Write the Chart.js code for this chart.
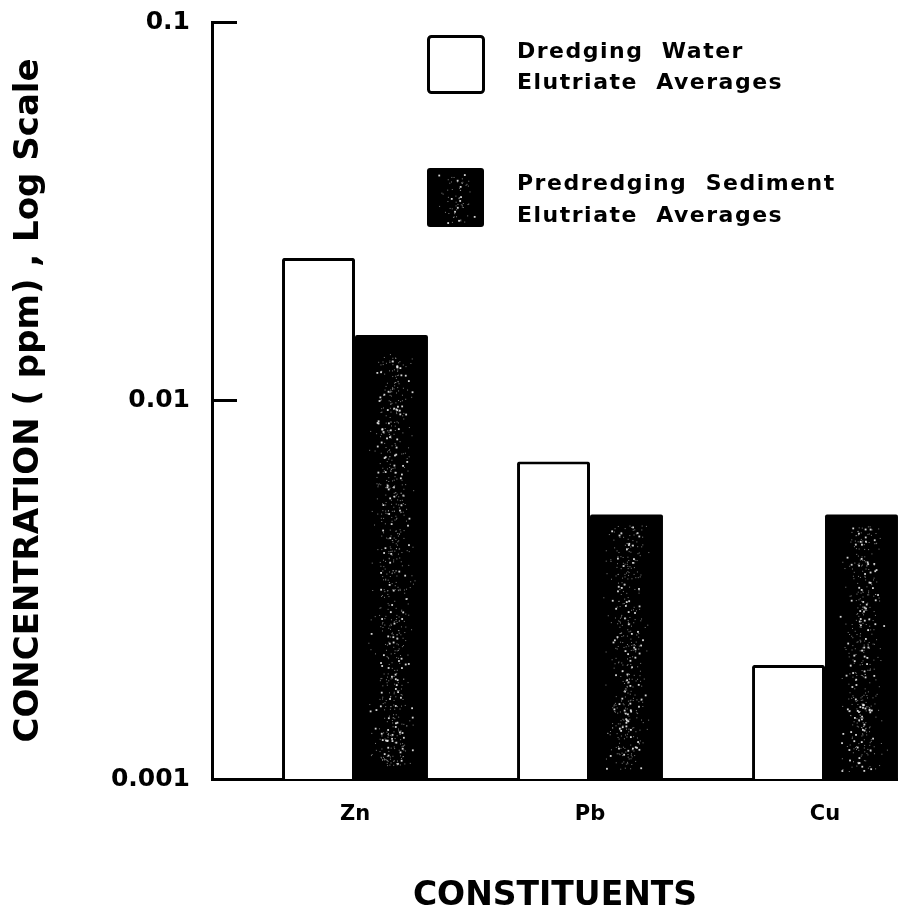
<!DOCTYPE html>
<html>
<head>
<meta charset="utf-8">
<script src="https://cdn.jsdelivr.net/npm/chart.js@4.4.0/dist/chart.umd.min.js"></script>
<style>
  html, body { margin:0; padding:0; background:#fff; overflow:hidden; }
  #wrap { width:898px; height:909px; position:relative; }
</style>
</head>
<body>
<div id="wrap"><canvas id="chart"></canvas></div>
<script>
const categories = ['Zn', 'Pb', 'Cu'];
const dredgingWater = [0.0238, 0.0069, 0.0020];
const predredgingSediment = [0.0149, 0.0050, 0.0050];
const yTicks = [0.001, 0.01, 0.1];
const legendLines = [
  ['Dredging  Water', 'Elutriate  Averages'],
  ['Predredging  Sediment', 'Elutriate  Averages']
];

const FONT = "'DejaVu Sans', sans-serif";

// speckled texture for the dark bars, fixed seed so every render is the same
function speckle(ctx, x0, y0, w, h, seed){
  let s = seed;
  const rnd = () => { s = (s * 16807) % 2147483647; return s / 2147483647; };
  const n = Math.round(w * h / 45);
  ctx.save();
  for(let i = 0; i < n; i++){
    const u = (rnd() + rnd() + rnd() + rnd()) / 4;   // bunch toward the middle
    const x = x0 + w * (0.08 + 0.84 * u);
    const y = y0 + h * (0.04 + 0.93 * rnd());
    const big = rnd() < 0.2;
    ctx.fillStyle = big ? 'rgba(235,235,235,0.9)' : 'rgba(160,160,160,0.8)';
    ctx.fillRect(x, y, big ? 1.8 : 1, big ? 1.8 : 1);
  }
  ctx.restore();
}

const speckleBars = {
  id: 'speckleBars',
  afterDatasetsDraw(chart){
    const ctx = chart.ctx;
    const a = chart.chartArea;
    ctx.save();
    ctx.beginPath();
    ctx.rect(a.left, a.top, a.right - a.left, a.bottom - a.top);
    ctx.clip();
    chart.getDatasetMeta(1).data.forEach((bar, i) => {
      const p = bar.getProps(['x', 'y', 'base', 'width'], true);
      speckle(ctx, p.x - p.width / 2, p.y, p.width, p.base - p.y, 7919 + i * 104729);
    });
    ctx.restore();
  }
};

// legend with the two boxes, drawn in the upper middle of the plot
const boxLegend = {
  id: 'boxLegend',
  afterDraw(chart){
    const ctx = chart.ctx;
    ctx.save();
    ctx.lineWidth = 3;
    ctx.strokeStyle = '#000';
    ctx.fillStyle = '#fff';
    ctx.beginPath();
    ctx.roundRect(428.5, 36.5, 55, 56, 3);
    ctx.fill();
    ctx.stroke();
    ctx.fillStyle = '#000';
    ctx.beginPath();
    ctx.roundRect(427, 168, 57, 59, 3);
    ctx.fill();
    speckle(ctx, 427, 172, 57, 52, 31337);

    ctx.font = 'bold 22px ' + FONT;
    ctx.letterSpacing = '1.5px';
    ctx.fillStyle = '#000';
    ctx.textBaseline = 'alphabetic';
    ctx.textAlign = 'left';
    ctx.fillText(legendLines[0][0], 517, 58);
    ctx.fillText(legendLines[0][1], 517, 89);
    ctx.fillText(legendLines[1][0], 517, 190);
    ctx.fillText(legendLines[1][1], 517, 222);
    ctx.restore();
  }
};

const ctx = document.getElementById('chart');
new Chart(ctx, {
  type: 'bar',
  data: {
    datasets: [
      {
        label: 'Dredging Water Elutriate Averages',
        data: categories.map((c, i) => ({ x: i, y: dredgingWater[i] })),
        backgroundColor: '#fff',
        borderColor: '#000',
        borderWidth: 3,
        borderRadius: 2
      },
      {
        label: 'Predredging Sediment Elutriate Averages',
        data: categories.map((c, i) => ({ x: i, y: predredgingSediment[i] })),
        backgroundColor: '#000',
        borderColor: '#000',
        borderWidth: 0,
        borderRadius: 2
      }
    ]
  },
  options: {
    responsive: true,
    maintainAspectRatio: false,
    animation: false,
    events: [],
    layout: { padding: { top: 22, left: 0, right: 0, bottom: 0 } },
    datasets: {
      bar: { categoryPercentage: 0.621, barPercentage: 1.0 }
    },
    scales: {
      x: {
        type: 'linear',
        offset: false,
        min: -0.6085,
        max: 2.3106,
        afterBuildTicks: scale => { scale.ticks = categories.map((c, i) => ({ value: i })); },
        afterFit: scale => { scale.height = 130; scale.paddingLeft = 0; scale.paddingRight = 0; },
        ticks: {
          callback: v => categories[v] ?? '',
          color: '#000',
          font: { family: FONT, size: 21, weight: 'bold' },
          padding: 15,
          maxRotation: 0
        },
        grid: { display: false, offset: false },
        border: { display: true, color: '#000', width: 3 },
        title: {
          display: true,
          text: 'CONSTITUENTS',
          color: '#000',
          font: { family: FONT, size: 33, weight: 'bold' },
          padding: { top: 0, bottom: -7 }
        }
      },
      y: {
        type: 'logarithmic',
        min: 0.001,
        max: 0.1,
        afterBuildTicks: scale => { scale.ticks = yTicks.map(v => ({ value: v })); },
        afterFit: scale => { scale.width = 212; scale.paddingTop = 0; scale.paddingBottom = 0; },
        ticks: {
          callback: v => yTicks.includes(v) ? String(v) : '',
          color: '#000',
          font: { family: FONT, size: 25, weight: 'bold' },
          padding: 47
        },
        grid: {
          drawOnChartArea: false,
          drawTicks: true,
          tickLength: -25,
          lineWidth: 3,
          color: '#000'
        },
        border: { display: true, color: '#000', width: 3 },
        title: {
          display: true,
          text: 'CONCENTRATION ( ppm) , Log Scale',
          color: '#000',
          font: { family: FONT, size: 34, weight: 'bold' },
          padding: { top: 9, bottom: 0 }
        }
      }
    },
    plugins: {
      legend: { display: false },
      tooltip: { enabled: false }
    }
  },
  plugins: [speckleBars, boxLegend]
});
</script>
</body>
</html>
